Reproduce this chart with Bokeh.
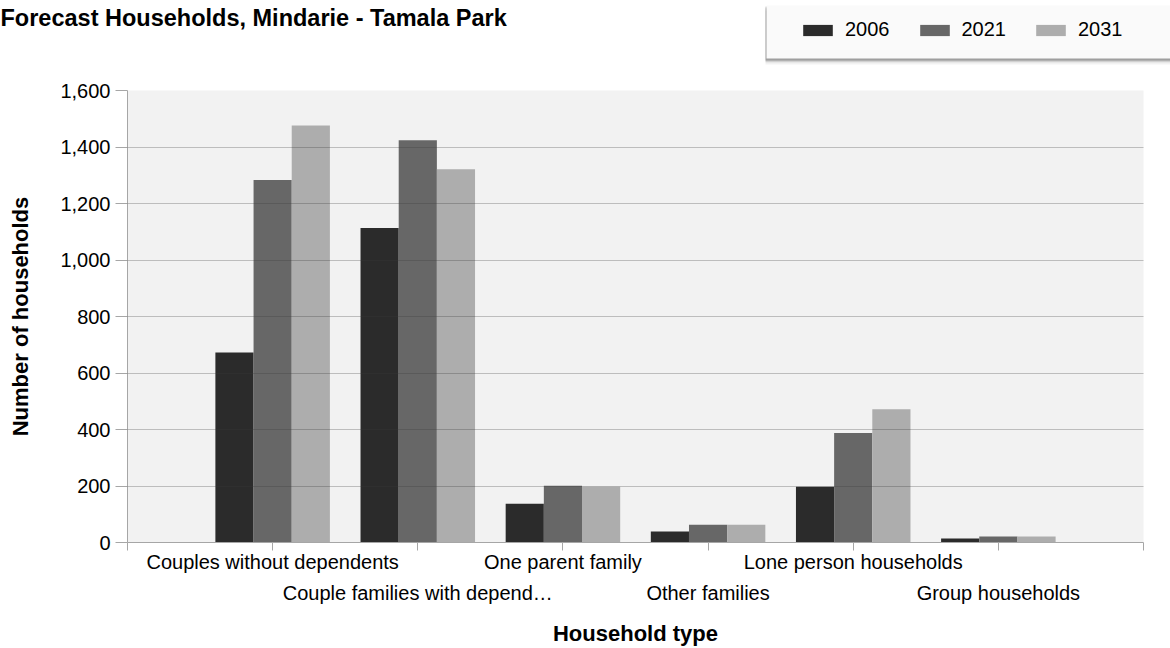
from bokeh.plotting import figure
from bokeh.layouts import column
from bokeh.models import (ColumnDataSource, FixedTicker, NumeralTickFormatter, Range1d,
                          Legend, LegendItem, Label, BoxAnnotation)
from bokeh.transform import dodge
from bokeh.embed import file_html
from bokeh.resources import INLINE

categories = ["Couples without dependents", "Couple families with depend\u2026",
              "One parent family", "Other families", "Lone person households",
              "Group households"]
years = ["2006", "2021", "2031"]
v2006 = [673, 1113, 137, 39, 197, 14]
v2021 = [1283, 1424, 201, 63, 388, 21]
v2031 = [1476, 1321, 197, 63, 472, 21]
y_ticks = [0, 200, 400, 600, 800, 1000, 1200, 1400, 1600]
title_text = "Forecast Households, Mindarie - Tamala Park"

colors = ["#2b2b2b", "#676767", "#adadad"]
FONT = "Liberation Sans"
W = 1170
HEAD_H = 80
MAIN_H = 648 - HEAD_H

pos = [i + 1 for i in range(len(categories))]
src = ColumnDataSource(dict(x=pos, cat=categories, y2006=v2006, y2021=v2021, y2031=v2031))

# ---------------- header (title + legend) ----------------
head = figure(width=W, height=HEAD_H, output_backend="svg", toolbar_location=None,
              x_range=Range1d(0, W), y_range=Range1d(0, HEAD_H),
              x_axis_type=None, y_axis_type=None,
              min_border_left=0, min_border_right=0, min_border_top=0, min_border_bottom=0,
              background_fill_color="white", border_fill_color="white",
              outline_line_color=None)
head.frame_align = False
head.xgrid.visible = False
head.ygrid.visible = False

head.add_layout(Label(x=0, y=HEAD_H - 17, text=title_text, text_baseline="middle",
                      text_align="left", text_font=FONT, text_font_size="23.5px",
                      text_font_style="bold", text_color="#000000"))

# legend panel with soft shadow
for off, a in [(6, 0.05), (4, 0.08), (3, 0.12), (2, 0.18)]:
    head.add_layout(BoxAnnotation(left=766 - 1, right=W + 5, bottom=HEAD_H - 58 - off,
                                  top=HEAD_H - 5 - off + 1, fill_color="#000000",
                                  fill_alpha=a, line_color=None))
head.add_layout(BoxAnnotation(left=766, right=W + 5, bottom=HEAD_H - 58, top=HEAD_H - 5,
                              fill_color="#fafafa", fill_alpha=1.0, line_color=None))

# hidden copies of the series, only used to feed the legend swatches
proxies = []
for yr, col in zip(years, colors):
    proxies.append(head.vbar(x="x", top="y" + yr, width=0.2, source=src,
                             fill_color=col, line_color=None, visible=False))

legend = Legend(items=[LegendItem(label=yr, renderers=[r]) for yr, r in zip(years, proxies)],
                orientation="horizontal", location=(799, 39),
                glyph_width=37, glyph_height=14, label_standoff=9, spacing=26,
                padding=0, margin=0, click_policy="none",
                label_text_font=FONT, label_text_font_size="20px", label_text_color="#000000",
                background_fill_alpha=0.0, border_line_color=None)
head.add_layout(legend, "center")

# ---------------- main chart ----------------
p = figure(width=W, height=MAIN_H, output_backend="svg", toolbar_location=None,
           x_range=Range1d(0, len(categories) + 1), y_range=Range1d(y_ticks[0], y_ticks[-1]),
           min_border_left=127, min_border_right=27, min_border_top=10, min_border_bottom=104,
           background_fill_color="#f2f2f2", border_fill_color="white",
           outline_line_color=None)
p.frame_align = False

bw = 0.263
for k, (yr, col) in enumerate(zip(years, colors)):
    p.vbar(x=dodge("x", (k - 1) * bw, range=p.x_range), top="y" + yr, width=bw,
           bottom=0, source=src, fill_color=col, line_color=None)

p.xaxis.ticker = FixedTicker(ticks=list(range(0, len(categories) + 2)))
overrides = {0: "", len(categories) + 1: ""}
for i, c in enumerate(categories):
    overrides[i + 1] = c if i % 2 == 0 else "\n" + c
p.xaxis.major_label_overrides = overrides
p.xaxis.major_label_text_line_height = 1.42
p.xaxis.minor_tick_line_color = None
p.xaxis.major_tick_out = 8
p.xaxis.major_tick_in = 0
p.xaxis.major_label_standoff = 0
p.xaxis.axis_label = "Household type"
p.xaxis.axis_label_standoff = 14

p.yaxis.ticker = FixedTicker(ticks=y_ticks)
p.yaxis.formatter = NumeralTickFormatter(format="0,0")
p.yaxis.minor_tick_line_color = None
p.yaxis.major_tick_out = 12
p.yaxis.major_tick_in = 0
p.yaxis.major_label_standoff = 5
p.yaxis.axis_label = "Number of households"
p.yaxis.axis_label_standoff = 24

for ax in (p.xaxis, p.yaxis):
    ax.axis_line_color = "#a6a6a6"
    ax.major_tick_line_color = "#a6a6a6"
    ax.major_label_text_font = FONT
    ax.major_label_text_font_size = "20px"
    ax.major_label_text_color = "#000000"
    ax.axis_label_text_font = FONT
    ax.axis_label_text_font_size = "22px"
    ax.axis_label_text_font_style = "bold"
    ax.axis_label_text_color = "#000000"

p.xgrid.grid_line_color = None
p.ygrid.grid_line_color = "#3b3b3b"
p.ygrid.grid_line_alpha = 0.29
p.ygrid.level = "overlay"

layout = column(head, p, spacing=0)
open("out.html", "w").write(file_html(layout, INLINE))
